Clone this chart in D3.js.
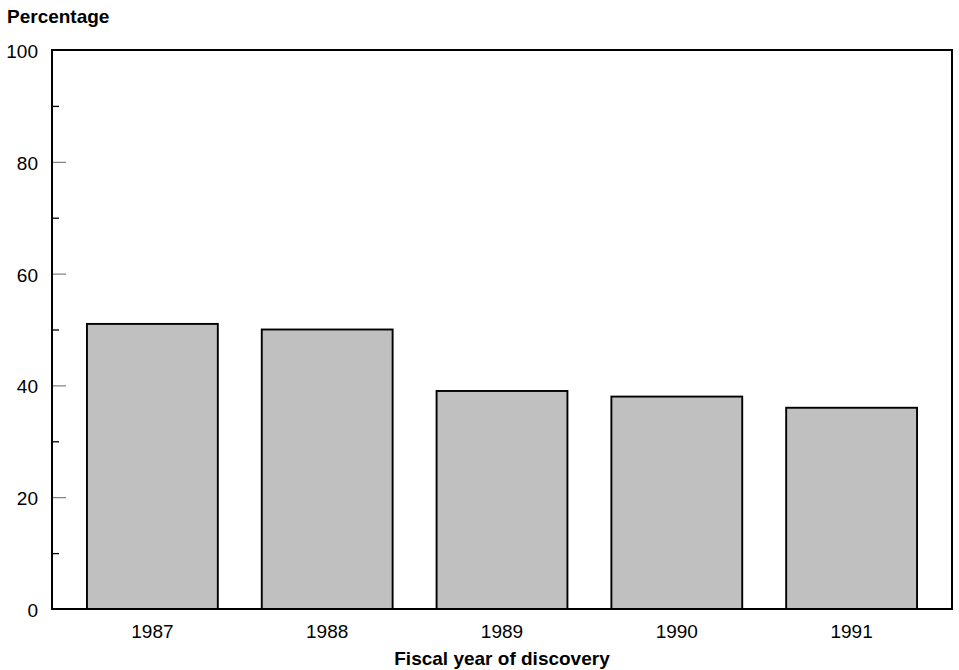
<!DOCTYPE html>
<html><head><meta charset="utf-8">
<script src="https://cdn.jsdelivr.net/npm/d3@7"></script>
<style>body{margin:0;background:#fff}svg{display:block}text{font-family:"Liberation Sans",Arial,sans-serif;fill:#000}</style>
</head><body><div id="c"></div>
<script>
const categories = ["1987","1988","1989","1990","1991"];
const values = [51, 50, 39, 38, 36];
const majorTicks = [0,20,40,60,80,100];
const minorTicks = [10,30,50,70,90];
const yTitle = "Percentage";
const xTitle = "Fiscal year of discovery";

const W=959,H=670;
const svg=d3.select("#c").append("svg").attr("width",W).attr("height",H);
const L=52,R=952,T=50,B=609;
const x=d3.scaleBand().domain(categories).range([L,R]).paddingInner(0.2514).paddingOuter(0.2);
const y=d3.scaleLinear().domain([0,100]).range([B,T]);

svg.selectAll("rect.bar").data(values).join("rect").attr("class","bar")
 .attr("x",(d,i)=>x(categories[i])).attr("width",x.bandwidth())
 .attr("y",d=>y(d)).attr("height",d=>B-y(d))
 .attr("fill","#c0c0c0").attr("stroke","#000").attr("stroke-width",1.9);

const gy=svg.append("g").attr("transform",`translate(${L},0)`)
 .call(d3.axisRight(y).tickValues(majorTicks).tickSize(14).tickFormat(""));
gy.select(".domain").remove();
gy.selectAll("line").attr("stroke","#666").attr("stroke-width",1);
const gm=svg.append("g").attr("transform",`translate(${L},0)`)
 .call(d3.axisRight(y).tickValues(minorTicks).tickSize(7).tickFormat(""));
gm.select(".domain").remove();
gm.selectAll("line").attr("stroke","#000").attr("stroke-width",1.3);

svg.append("rect").attr("x",L).attr("y",T).attr("width",R-L).attr("height",B-T)
 .attr("fill","none").attr("stroke","#000").attr("stroke-width",2);

svg.selectAll("text.yl").data(majorTicks).join("text").attr("class","yl")
 .attr("x",38).attr("y",d=>y(d)+8).attr("text-anchor","end")
 .attr("font-size",19).text(d=>d);

const gx=svg.append("g").attr("transform",`translate(0,${B})`).call(d3.axisBottom(x).tickSize(0).tickPadding(0));
gx.select(".domain").remove();
gx.selectAll("text").attr("y",29).attr("dy",0).attr("font-size",19).attr("font-family",null).attr("fill","#000");

svg.append("text").attr("x",7).attr("y",23).attr("font-size",19).attr("font-weight","bold").text(yTitle);
svg.append("text").attr("x",502).attr("y",665).attr("text-anchor","middle").attr("font-size",19).attr("font-weight","bold").text(xTitle);
</script></body></html>
